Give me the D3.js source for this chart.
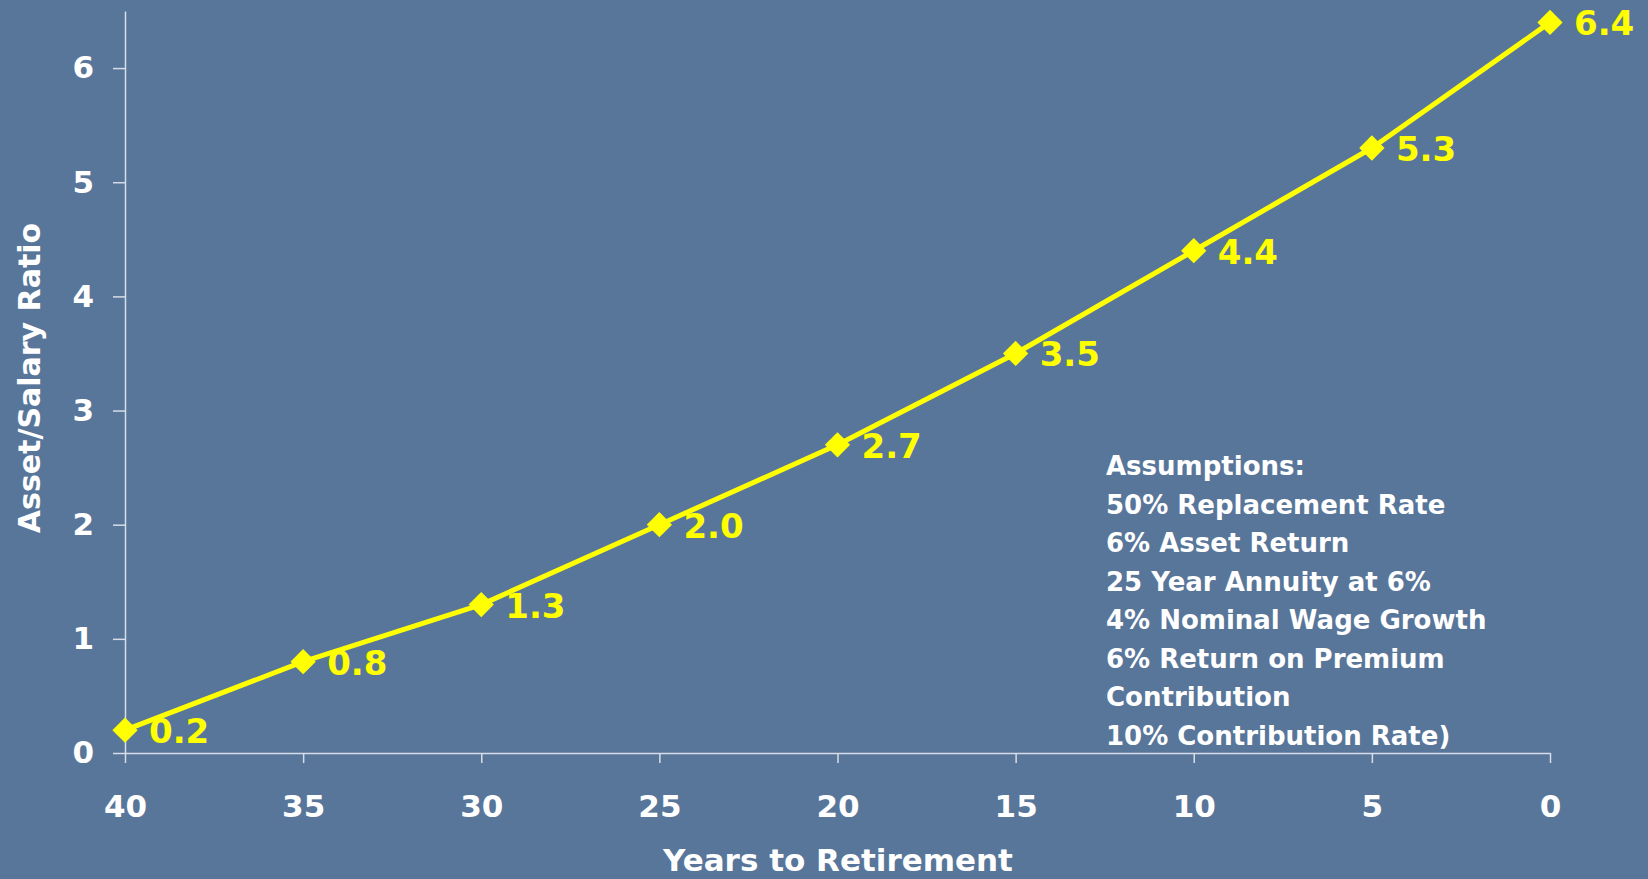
<!DOCTYPE html>
<html>
<head>
<meta charset="utf-8">
<script src="https://cdn.jsdelivr.net/npm/d3@7"></script>
<style>
  html, body { margin: 0; padding: 0; background: #58769a; }
  svg { display: block; }
  text { font-family: "DejaVu Sans", sans-serif; font-weight: bold; }
</style>
</head>
<body>
<svg id="chart" width="1648" height="879"></svg>
<script>
// Years remaining until retirement and the asset-to-salary ratio needed at each point
const years = [40, 35, 30, 25, 20, 15, 10, 5, 0];
const ratios = [0.2, 0.8, 1.3, 2.0, 2.7, 3.5, 4.4, 5.3, 6.4];
const xTicks = [40, 35, 30, 25, 20, 15, 10, 5, 0];
const yTicks = [0, 1, 2, 3, 4, 5, 6];
const assumptions = [
  "Assumptions:",
  "50% Replacement Rate",
  "6% Asset Return",
  "25 Year Annuity at 6%",
  "4% Nominal Wage Growth",
  "6% Return on Premium",
  "Contribution",
  "10% Contribution Rate)"
];

const W = 1648, H = 879;
const svg = d3.select("#chart");
const axisColor = "#d7dde6";
const yellow = "#ffff00";

svg.append("rect").attr("width", W).attr("height", H).attr("fill", "#58769a");

const x = d3.scaleLinear().domain([40, 0]).range([125, 1550]);
const y = d3.scaleLinear().domain([0, 6.5]).range([753, 11]);

// Y axis
const gy = svg.append("g")
  .attr("transform", `translate(${x(40)},0)`)
  .call(d3.axisLeft(y).tickValues(yTicks).tickFormat(d3.format("d"))
    .tickSize(12).tickSizeOuter(0).tickPadding(19));
gy.select(".domain").attr("stroke", axisColor).attr("stroke-width", 1.5);
gy.selectAll(".tick line").attr("stroke", axisColor).attr("stroke-width", 1.5);
gy.selectAll(".tick text").attr("fill", "#ffffff").attr("font-size", 31)
  .style("font-family", '"DejaVu Sans", sans-serif').style("font-weight", "bold");

// X axis
const gx = svg.append("g")
  .attr("transform", `translate(0,${y(0)})`)
  .call(d3.axisBottom(x).tickValues(xTicks).tickFormat(d3.format("d"))
    .tickSize(10).tickSizeOuter(0).tickPadding(32));
gx.select(".domain").attr("stroke", axisColor).attr("stroke-width", 1.5);
gx.selectAll(".tick line").attr("stroke", axisColor).attr("stroke-width", 1.5);
gx.selectAll(".tick text").attr("fill", "#ffffff").attr("font-size", 31)
  .style("font-family", '"DejaVu Sans", sans-serif').style("font-weight", "bold");

// Axis titles
svg.append("text")
  .attr("x", 838).attr("y", 871)
  .attr("text-anchor", "middle")
  .attr("fill", "#ffffff").attr("font-size", 31)
  .text("Years to Retirement");

svg.append("text")
  .attr("transform", "translate(40,378) rotate(-90)")
  .attr("text-anchor", "middle")
  .attr("fill", "#ffffff").attr("font-size", 30)
  .text("Asset/Salary Ratio");

// Series line
const points = years.map((yr, i) => ({ yr, v: ratios[i] }));
svg.append("path")
  .datum(points)
  .attr("fill", "none")
  .attr("stroke", yellow)
  .attr("stroke-width", 5)
  .attr("stroke-linejoin", "round")
  .attr("d", d3.line().x(d => x(d.yr)).y(d => y(d.v)));

// Diamond markers
svg.append("g").selectAll("path")
  .data(points)
  .join("path")
  .attr("transform", d => `translate(${x(d.yr)},${y(d.v)}) rotate(45)`)
  .attr("d", d3.symbol(d3.symbolSquare, 320))
  .attr("fill", yellow);

// Value labels
svg.append("g").selectAll("text")
  .data(points)
  .join("text")
  .attr("x", d => x(d.yr) + 24)
  .attr("y", d => y(d.v) + 13)
  .attr("fill", yellow)
  .attr("font-size", 34)
  .text(d => d3.format(".1f")(d.v));

// Assumptions note
svg.append("g").selectAll("text")
  .data(assumptions)
  .join("text")
  .attr("x", 1106)
  .attr("y", (d, i) => 475 + i * 38.5)
  .attr("fill", "#ffffff")
  .attr("font-size", 26)
  .text(d => d);
</script>
</body>
</html>
